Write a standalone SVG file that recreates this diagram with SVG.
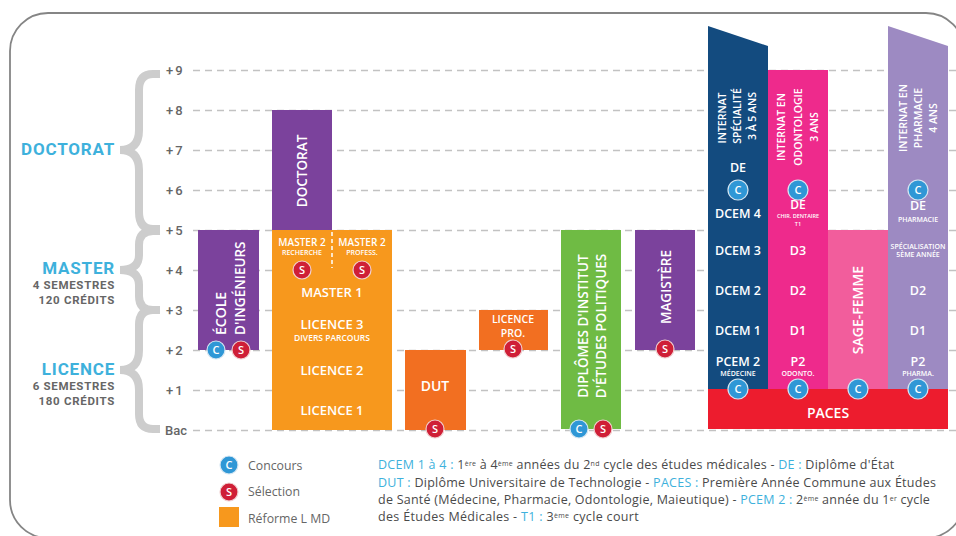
<svg xmlns="http://www.w3.org/2000/svg" width="956" height="536" viewBox="0 0 956 536">
<style>
text{font-family:"Open Sans","Liberation Sans",sans-serif;font-weight:600;fill:#fff}
.m{text-anchor:middle}
.h{font-size:12.5px}
.s{font-size:7px}
.v{font-size:10.5px;text-anchor:middle}
.b{font-size:14px;text-anchor:middle}
.y{font-family:"Roboto","Liberation Sans",sans-serif;font-size:13px;font-weight:500;fill:#666;letter-spacing:2px}
.t{font-family:"Roboto","Liberation Sans",sans-serif;font-size:17px;font-weight:700;fill:#3eb1dc;text-anchor:end;letter-spacing:.8px}
.u{font-family:"Roboto","Liberation Sans",sans-serif;font-size:11.5px;font-weight:700;fill:#666;text-anchor:end;letter-spacing:.7px}
.l{font-size:12.3px;font-weight:400;fill:#666}
.f{font-size:12.5px;font-weight:400;fill:#4a4a4a}
.f .k{fill:#3eb1dc}
.f .e{font-size:7px}
.g{stroke:#c2c2c2;stroke-width:1.5;stroke-dasharray:7 5;fill:none}
.br{stroke:#cdcdcd;stroke-width:8;fill:none}
.cc{fill:#2f97d6;stroke:#d5e6f2;stroke-width:1.2}
.cs{fill:#cf1f37;stroke:#f0d0d0;stroke-width:1.2}
.o{font-size:11px;text-anchor:middle}
</style>
<rect id="frame" x="10" y="13" width="954" height="525" rx="38" fill="#fff" stroke="#858585" stroke-width="1.8"/>
<g id="connectors">
<path class="g" d="M193 70.500H956M193 110.500H956M193 150.500H956M193 190.500H956M193 230.500H956M193 270.500H956M193 310.500H956M193 350.500H956M193 390.500H956M193 430.500H956"/>
<path class="br" d="M160 74H153Q139 74 139 90V130Q139 150 120 150Q139 150 139 170V212Q139 229 153 229H160"/>
<path class="br" d="M160 231H153Q139 231 139 245V255Q139 270 120 270Q139 270 139 285V296Q139 310 153 310H160"/>
<path class="br" d="M160 310H153Q139 310 139 325V350Q139 370 120 370Q139 370 139 390V414Q139 429 153 429H160"/>
</g>
<g id="axis">
<text class="y" x="166" y="75">+9</text><text class="y" x="166" y="115">+8</text><text class="y" x="166" y="155">+7</text><text class="y" x="166" y="195">+6</text><text class="y" x="166" y="235">+5</text><text class="y" x="166" y="275">+4</text><text class="y" x="166" y="315">+3</text><text class="y" x="166" y="355">+2</text><text class="y" x="166" y="395">+1</text><text class="y" style="letter-spacing:0" x="165" y="435">Bac</text>
</g>
<g id="label-doctorat"><text class="t" x="115" y="155">DOCTORAT</text></g>
<g id="label-master"><text class="t" x="115" y="274">MASTER</text><text class="u" x="115" y="289">4 SEMESTRES</text><text class="u" x="115" y="304">120 CRÉDITS</text></g>
<g id="label-licence"><text class="t" x="115" y="375">LICENCE</text><text class="u" x="115" y="390">6 SEMESTRES</text><text class="u" x="115" y="405">180 CRÉDITS</text></g>

<g id="ecole">
<rect x="198" y="230" width="61" height="120" fill="#7b429c"/>
<text class="b" style="text-anchor:start" transform="translate(226 335) rotate(-90)">ÉCOLE</text>
<text class="b" style="text-anchor:start;font-size:13.500px" transform="translate(245 335) rotate(-90)">D'INGÉNIEURS</text>
<circle class="cc" cx="216" cy="350" r="9"/><text class="o" x="216" y="354">C</text>
<circle class="cs" cx="241" cy="350" r="9"/><text class="o" x="241" y="354">S</text>
</g>
<g id="doctorat">
<rect x="272" y="110" width="60" height="120" fill="#7b429c"/>
<text class="b" style="font-size:13.500px" transform="translate(307 171) rotate(-90)">DOCTORAT</text>
</g>
<g id="licence-master">
<rect x="272" y="230" width="120" height="200" fill="#f7981d"/>
<path d="M332 232V268" stroke="#fff" stroke-width="1.500" stroke-dasharray="4 3"/>
<text class="m" style="font-size:10px" x="302" y="246">MASTER 2</text><text class="m s" x="302" y="255">RECHERCHE</text>
<text class="m" style="font-size:10px" x="362" y="246">MASTER 2</text><text class="m s" x="362" y="255">PROFESS.</text>
<circle class="cs" cx="302" cy="270" r="9"/><text class="o" x="302" y="274">S</text>
<circle class="cs" cx="362" cy="270" r="9"/><text class="o" x="362" y="274">S</text>
<text class="b" style="font-size:13px" x="332" y="297">MASTER 1</text>
<text class="b" style="font-size:13px" x="332" y="329">LICENCE 3</text>
<text class="m" style="font-size:8.500px" x="332" y="341">DIVERS PARCOURS</text>
<text class="b" style="font-size:13px" x="332" y="375">LICENCE 2</text>
<text class="b" style="font-size:13px" x="332" y="415">LICENCE 1</text>
</g>
<g id="dut">
<rect x="405" y="350" width="61" height="80" fill="#f26f21"/>
<text class="b" x="435" y="391">DUT</text>
<circle class="cs" cx="435" cy="429" r="9"/><text class="o" x="435" y="433">S</text>
</g>
<g id="licence-pro">
<rect x="479" y="310" width="69" height="40" fill="#f26f21"/>
<text class="m" style="font-size:10.500px" x="513" y="323">LICENCE</text><text class="m" style="font-size:10.500px" x="513" y="337">PRO.</text>
<circle class="cs" cx="513" cy="349" r="9"/><text class="o" x="513" y="353">S</text>
</g>
<g id="iep">
<rect x="561" y="230" width="60" height="199" fill="#6fbb44"/>
<text class="b" style="font-size:13.500px" transform="translate(588 326) rotate(-90)">DIPLÔMES D'INSTITUT</text>
<text class="b" style="font-size:13.500px" transform="translate(606 326) rotate(-90)">D'ÉTUDES POLITIQUES</text>
<circle class="cc" cx="579" cy="429" r="9"/><text class="o" x="579" y="433">C</text>
<circle class="cs" cx="603" cy="429" r="9"/><text class="o" x="603" y="433">S</text>
</g>
<g id="magistere">
<rect x="635" y="230" width="60" height="120" fill="#7b429c"/>
<text class="b" style="font-size:13.500px" transform="translate(671 287) rotate(-90)">MAGISTÈRE</text>
<circle class="cs" cx="665" cy="349" r="9"/><text class="o" x="665" y="353">S</text>
</g>
<g id="medecine">
<path d="M708 26L768 46V390H708Z" fill="#134b7f"/>
<text class="v" transform="translate(726 118) rotate(-90)">INTERNAT</text>
<text class="v" transform="translate(741 116) rotate(-90)">SPÉCIALITÉ</text>
<text class="v" transform="translate(756 116) rotate(-90)">3 À 5 ANS</text>
<text class="h m" x="738" y="172">DE</text>
<circle class="cc" cx="738" cy="190" r="10"/><text class="o" x="738" y="194">C</text>
<text class="h m" x="738" y="218">DCEM 4</text>
<text class="h m" x="738" y="255">DCEM 3</text>
<text class="h m" x="738" y="295">DCEM 2</text>
<text class="h m" x="738" y="335">DCEM 1</text>
<text class="h m" x="738" y="366">PCEM 2</text>
<text class="s m" x="738" y="376">MÉDECINE</text>
</g>
<g id="odontologie">
<rect x="768" y="70" width="60" height="320" fill="#ee2a8c"/>
<text class="v" transform="translate(785 127) rotate(-90)">INTERNAT EN</text>
<text class="v" transform="translate(802 127) rotate(-90)">ODONTOLOGIE</text>
<text class="v" transform="translate(818 127) rotate(-90)">3 ANS</text>
<circle class="cc" cx="798" cy="190" r="10"/><text class="o" x="798" y="194">C</text>
<text class="m" style="font-size:12px" x="798" y="208.500">DE</text>
<text class="m" style="font-size:5.500px" x="798" y="218">CHIR. DENTAIRE</text>
<text class="m" style="font-size:5.500px" x="798" y="226">T1</text>
<text class="h m" x="798" y="255">D3</text>
<text class="h m" x="798" y="295">D2</text>
<text class="h m" x="798" y="335">D1</text>
<text class="h m" x="798" y="366">P2</text>
<text class="s m" x="798" y="376">ODONTO.</text>
</g>
<g id="sage-femme">
<rect x="828" y="230" width="60" height="160" fill="#f25d9c"/>
<text class="b" transform="translate(863 310) rotate(-90)">SAGE-FEMME</text>
</g>
<g id="pharmacie">
<path d="M888 26L948 46V390H888Z" fill="#9d8ac2"/>
<text class="v" transform="translate(907 118) rotate(-90)">INTERNAT EN</text>
<text class="v" transform="translate(922 118) rotate(-90)">PHARMACIE</text>
<text class="v" transform="translate(937 118) rotate(-90)">4 ANS</text>
<circle class="cc" cx="918" cy="190" r="10"/><text class="o" x="918" y="194">C</text>
<text class="h m" x="918" y="210">DE</text>
<text class="s m" x="918" y="222">PHARMACIE</text>
<text class="s m" x="918" y="249">SPÉCIALISATION</text>
<text class="s m" x="918" y="257">5ÈME ANNÉE</text>
<text class="h m" x="918" y="295">D2</text>
<text class="h m" x="918" y="335">D1</text>
<text class="h m" x="918" y="366">P2</text>
<text class="s m" x="918" y="376">PHARMA.</text>
</g>
<g id="paces">
<rect x="708" y="389" width="240" height="40" fill="#ed1c2e"/>
<text class="b" x="828" y="418">PACES</text>
<circle class="cc" cx="738" cy="389" r="10"/><text class="o" x="738" y="393">C</text>
<circle class="cc" cx="798" cy="389" r="10"/><text class="o" x="798" y="393">C</text>
<circle class="cc" cx="858" cy="389" r="10"/><text class="o" x="858" y="393">C</text>
<circle class="cc" cx="918" cy="389" r="10"/><text class="o" x="918" y="393">C</text>
</g>
<g id="legend">
<circle class="cc" cx="229" cy="465" r="9"/><text class="o" x="229" y="469">C</text>
<text class="l" x="248" y="470">Concours</text>
<circle class="cs" cx="229" cy="492" r="9"/><text class="o" x="229" y="496">S</text>
<text class="l" x="248" y="496">Sélection</text>
<rect x="219" y="507" width="20" height="20" fill="#f7981d"/>
<text class="l" x="248" y="523">Réforme L MD</text>
</g>
<g id="notes">
<text class="f" style="letter-spacing:.26px" x="378" y="469"><tspan class="k">DCEM 1 à 4 :</tspan> 1<tspan class="e" dy="-3">ère</tspan><tspan dy="3"> à 4</tspan><tspan class="e" dy="-3">ème</tspan><tspan dy="3"> années du 2</tspan><tspan class="e" dy="-3">nd</tspan><tspan dy="3"> cycle des études médicales -   </tspan><tspan class="k">DE :</tspan> Diplôme d'État</text>
<text class="f" style="letter-spacing:.26px" x="378" y="487"><tspan class="k">DUT :</tspan> Diplôme Universitaire de  Technologie - <tspan class="k">PACES :</tspan> Première Année Commune aux Études</text>
<text class="f" style="letter-spacing:.24px" x="378" y="504">de Santé (Médecine, Pharmacie, Odontologie, Maieutique) - <tspan class="k">PCEM 2 :</tspan> 2<tspan class="e" dy="-3">ème</tspan><tspan dy="3"> année du 1</tspan><tspan class="e" dy="-3">er</tspan><tspan dy="3"> cycle</tspan></text>
<text class="f" style="letter-spacing:.33px" x="378" y="521">des Études Médicales - <tspan class="k">T1 :</tspan> 3<tspan class="e" dy="-3">ème</tspan><tspan dy="3"> cycle court</tspan></text>
</g>
</svg>
